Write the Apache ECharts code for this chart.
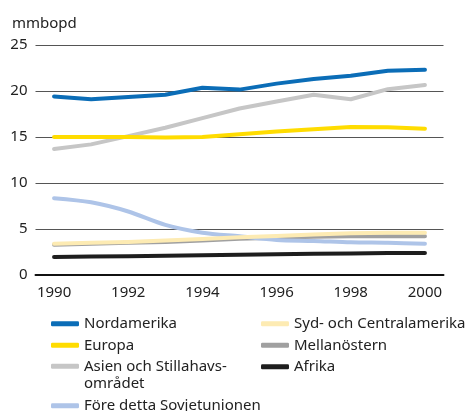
<!DOCTYPE html>
<html>
<head>
    <meta charset="utf-8">
    <title>mmbopd</title>
    <script src="https://cdn.jsdelivr.net/npm/echarts@6/dist/echarts.min.js"></script>
    <style>
        body { margin: 0; background: #fff; }
        #chart { width: 472px; height: 411px; }
    </style>
</head>
<body>
    <div id="chart"></div>
    <script>
        // values
        var years = ['1990', '1991', '1992', '1993', '1994', '1995', '1996', '1997', '1998', '1999', '2000'];
        var nordamerika = [19.4, 19.1, 19.35, 19.6, 20.35, 20.15, 20.8, 21.3, 21.65, 22.2, 22.3];
        var europa = [15.0, 15.0, 15.0, 14.95, 15.0, 15.3, 15.6, 15.85, 16.1, 16.05, 15.9];
        var asien = [13.7, 14.2, 15.1, 16.0, 17.05, 18.1, 18.85, 19.6, 19.1, 20.2, 20.65];
        var sovjet = [8.35, 7.9, 6.9, 5.45, 4.6, 4.2, 3.8, 3.7, 3.55, 3.5, 3.4];
        var sydamerika = [3.4, 3.5, 3.6, 3.75, 3.9, 4.1, 4.25, 4.4, 4.55, 4.6, 4.6];
        var mellanostern = [3.3, 3.4, 3.5, 3.6, 3.75, 3.95, 4.05, 4.15, 4.2, 4.2, 4.2];
        var afrika = [1.95, 2.0, 2.05, 2.1, 2.15, 2.2, 2.25, 2.3, 2.35, 2.4, 2.4];
        var yTicks = [0, 5, 10, 15, 20, 25];

        var font = 'Noto Sans';
        var textColor = '#222';

        function line(name, data, color, z, smooth) {
            return {
                name: name,
                type: 'line',
                data: data,
                z: z,
                smooth: smooth || false,
                symbol: 'none',
                lineStyle: { color: color, width: 4, cap: 'round', join: 'round' },
                itemStyle: { color: color }
            };
        }

        function legend(names, left, top) {
            return {
                data: names,
                orient: 'vertical',
                left: left,
                top: top,
                icon: 'roundRect',
                itemWidth: 28,
                itemHeight: 5,
                itemGap: 4,
                padding: 0,
                selectedMode: false,
                textStyle: { fontFamily: font, fontSize: 15, color: textColor, lineHeight: 17.5 }
            };
        }

        var asienLegend = legend(['Asien och Stillahavs-området'], 51, 340);
        asienLegend.formatter = function () { return ' \nAsien och Stillahavs-\nområdet'; };

        var chart = echarts.init(document.getElementById('chart'));
        chart.setOption({
            animation: false,
            title: {
                text: 'mmbopd',
                left: 12, top: 16, padding: 0,
                textStyle: { fontFamily: font, fontSize: 15, fontWeight: 'normal', color: textColor }
            },
            legend: [
                legend(['Nordamerika', 'Europa'], 51, 315),
                asienLegend,
                legend(['Före detta Sovjetunionen'], 51, 397),
                legend(['Syd- och Centralamerika', 'Mellanöstern', 'Afrika'], 261, 315)
            ],
            grid: { left: 35.5, right: 28.5, top: 45, bottom: 136 },
            xAxis: {
                type: 'category',
                data: years,
                boundaryGap: true,
                axisLine: { lineStyle: { color: '#111', width: 2 } },
                axisTick: { show: false },
                axisLabel: {
                    interval: 1, margin: 10,
                    fontFamily: font, fontSize: 15, color: textColor
                }
            },
            yAxis: {
                type: 'value',
                min: yTicks[0],
                max: yTicks[yTicks.length - 1],
                interval: 5,
                axisLine: { show: false },
                axisTick: { show: false },
                splitLine: { lineStyle: { color: '#555', width: 1 } },
                axisLabel: { margin: 8, fontFamily: font, fontSize: 15, color: textColor }
            },
            series: [
                line('Nordamerika', nordamerika, '#0b6db7', 7),
                line('Europa', europa, '#ffdc00', 6),
                line('Asien och Stillahavs-området', asien, '#c6c6c6', 5),
                line('Före detta Sovjetunionen', sovjet, '#aec4e8', 3, 0.3),
                line('Syd- och Centralamerika', sydamerika, '#fdebb3', 4),
                line('Mellanöstern', mellanostern, '#a0a0a0', 2),
                line('Afrika', afrika, '#1e1e1e', 2)
            ]
        });
    </script>
</body>
</html>
